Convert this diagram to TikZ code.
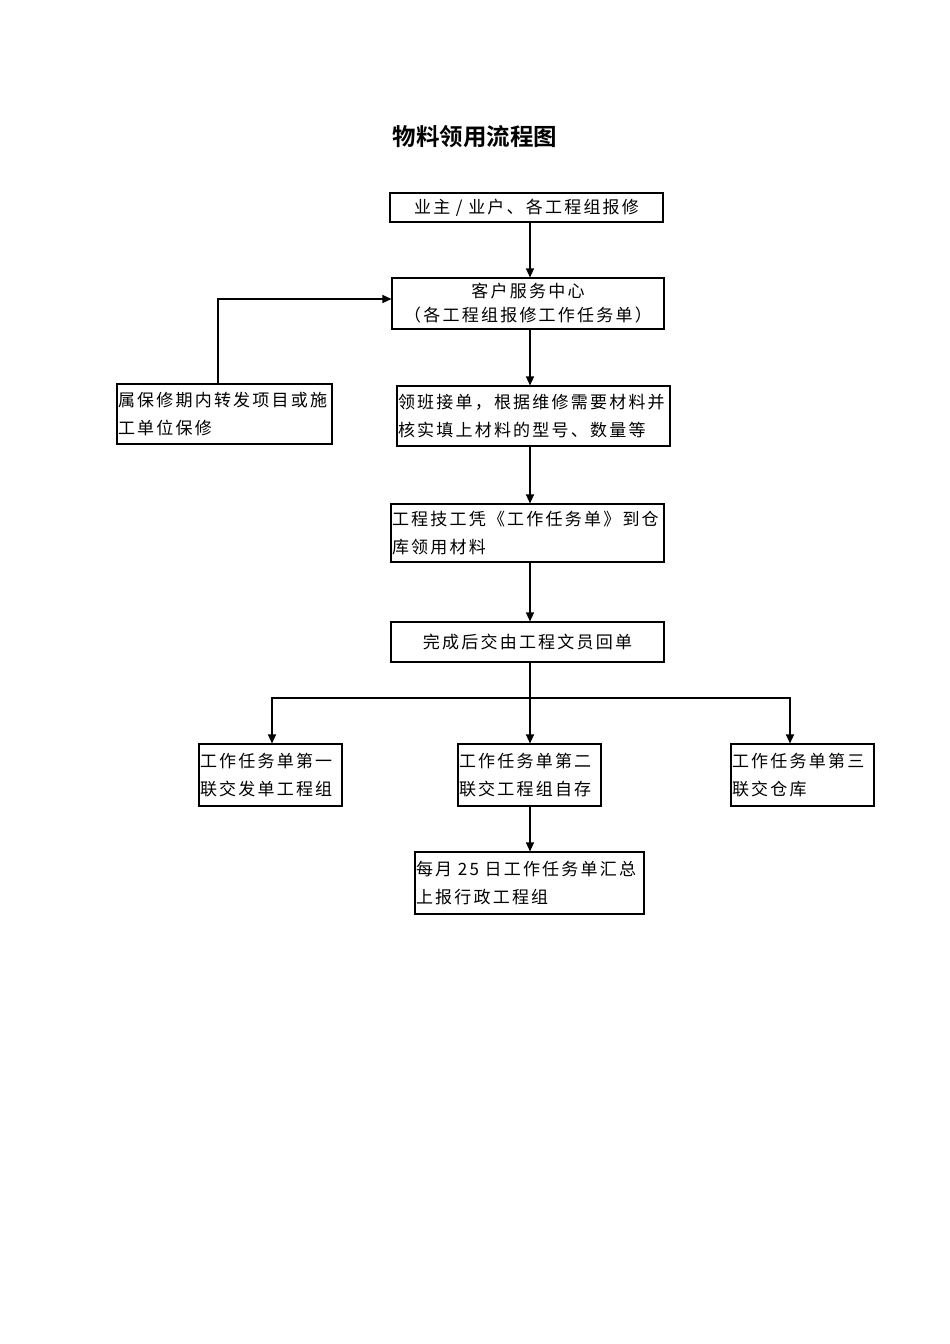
\documentclass[tikz,border=0pt]{standalone}
\usepackage{fontspec}
\usetikzlibrary{arrows.meta}
\newfontfamily\cjk[LetterSpace=13]{Noto Sans CJK SC}
\newfontfamily\cjktitle{Noto Sans CJK SC Bold}
\begin{document}
\begin{tikzpicture}[x=1pt,y=-1pt,
  box/.style={draw, line width=1.1pt, inner xsep=1pt, inner ysep=0pt,
    font=\cjk\fontsize{17}{28}\selectfont},
  arr/.style={line width=1.1pt, -{Triangle[length=9pt,width=8pt]}},
  ln/.style={line width=1.1pt}]
\useasboundingbox (0,0) rectangle (950,1344);
\node[font=\cjktitle\fontsize{23.5}{28}\selectfont] (title) at (475,137) {物料领用流程图};

\node[box, minimum width=273, minimum height=29, text width=271, align=center] (b1) at (526.5,207.5) {业主 / 业户、各工程组报修};
\node[box, minimum width=272, minimum height=51, text width=270, align=center, font=\cjk\fontsize{17}{24}\selectfont] (b2) at (528,303.5) {客户服务中心\\（各工程组报修工作任务单）};
\node[box, minimum width=215, minimum height=60, text width=213, align=left] (bl) at (224.5,414) {属保修期内转发项目或施\\工单位保修};
\node[box, minimum width=273, minimum height=60, text width=271, align=left] (b3) at (533.5,416) {领班接单，根据维修需要材料并\\核实填上材料的型号、数量等};
\node[box, minimum width=273, minimum height=58, text width=271, align=left] (b4) at (527.5,533) {工程技工凭《工作任务单》到仓\\库领用材料};
\node[box, minimum width=273, minimum height=40, text width=271, align=center] (b5) at (527.5,642) {完成后交由工程文员回单};
\node[box, minimum width=143, minimum height=62, text width=141, align=left] (c1) at (270.5,775) {工作任务单第一\\联交发单工程组};
\node[box, minimum width=143, minimum height=62, text width=141, align=left] (c2) at (529.5,775) {工作任务单第二\\联交工程组自存};
\node[box, minimum width=143, minimum height=62, text width=141, align=left] (c3) at (802.5,775) {工作任务单第三\\联交仓库};
\node[box, minimum width=229, minimum height=62, text width=227, align=left] (d) at (529.5,883) {每月 25 日工作任务单汇总\\上报行政工程组};

\coordinate (colx) at (530,0);
\coordinate (lx) at (272,0);
\coordinate (rx) at (790,0);
\coordinate (fbx) at (218,0);
\coordinate (split) at (530,698);
\coordinate (fbtop) at (218,299);

\draw[arr] (b1.south -| colx) -- (b2.north -| colx);
\draw[arr] (b2.south -| colx) -- (b3.north -| colx);
\draw[arr] (b3.south -| colx) -- (b4.north -| colx);
\draw[arr] (b4.south -| colx) -- (b5.north -| colx);
\draw[ln] (b5.south -| colx) -- (split);
\draw[arr] (split) -- (c2.north -| colx);
\draw[arr] (split) -| (c1.north -| lx);
\draw[arr] (split) -| (c3.north -| rx);
\draw[arr] (c2.south -| colx) -- (d.north -| colx);
\draw[arr] (bl.north -| fbx) -- (fbtop) -- (fbtop -| b2.west);
\end{tikzpicture}
\end{document}
